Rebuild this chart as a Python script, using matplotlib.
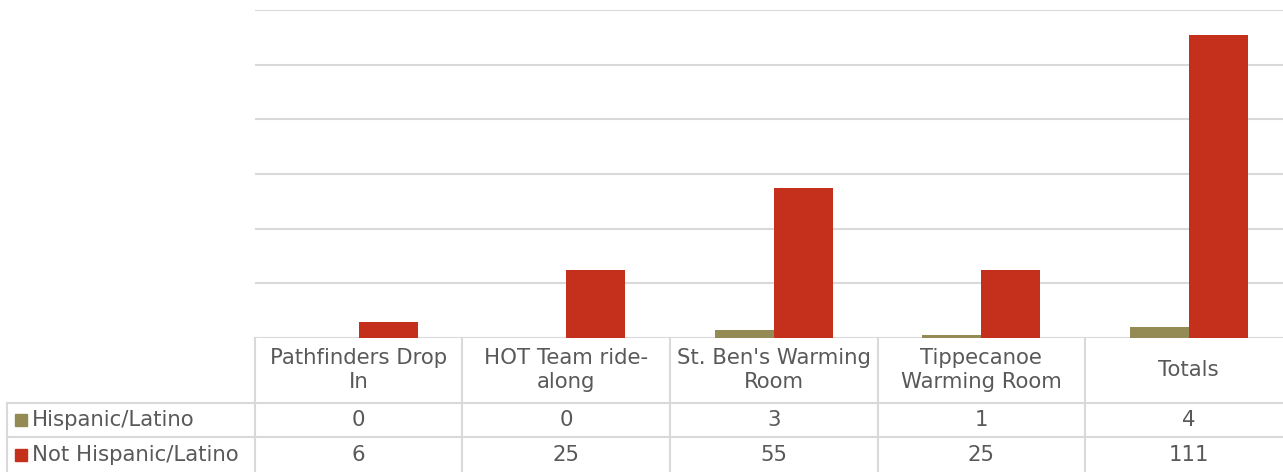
import matplotlib
matplotlib.use("Agg")
import matplotlib.pyplot as plt
import numpy as np
from matplotlib.lines import Line2D
from matplotlib.patches import Rectangle

categories = ["Pathfinders Drop\nIn", "HOT Team ride-\nalong", "St. Ben's Warming\nRoom",
              "Tippecanoe\nWarming Room", "Totals"]
series_names = ["Hispanic/Latino", "Not Hispanic/Latino"]
hispanic = [0, 0, 3, 1, 4]
not_hispanic = [6, 25, 55, 25, 111]
colors = ["#948A54", "#C4301C"]

W, H = 1283, 472
fig = plt.figure(figsize=(W / 100, H / 100), dpi=100)
plt.rcParams['font.family'] = ['DejaVu Sans']

def fx(px):
    return px / W

def fy(py):
    return 1 - py / H

ax_left, ax_right, ax_top, ax_bot = 255, 1292.5, 10, 338
ax = fig.add_axes([fx(ax_left), fy(ax_bot), fx(ax_right - ax_left), fy(ax_top) - fy(ax_bot)])
x = np.arange(len(categories))
bw = 0.285
ax.bar(x - bw / 2, hispanic, bw, color=colors[0], zorder=3)
ax.bar(x + bw / 2, not_hispanic, bw, color=colors[1], zorder=3)
ax.set_xlim(-0.5, len(categories) - 0.5)
ax.set_ylim(0, 120)
ax.set_yticks(np.arange(0, 121, 20))
ax.yaxis.grid(True, color="#D9D9D9", linewidth=1.5, zorder=0)
ax.tick_params(left=False, bottom=False, labelleft=False, labelbottom=False)
for s in ax.spines.values():
    s.set_visible(False)
ax.set_facecolor("none")

gc = "#D9D9D9"
tc = "#595959"
fs = 15.3
col_w = (ax_right - ax_left) / len(categories)

def hline(x0, x1, y):
    fig.add_artist(Line2D([fx(x0), fx(x1)], [fy(y), fy(y)], color=gc, linewidth=1.5))

def vline(xp, y0, y1):
    fig.add_artist(Line2D([fx(xp), fx(xp)], [fy(y0), fy(y1)], color=gc, linewidth=1.5))

hline(7, W, 403)
hline(7, W, 437)
vline(7, 403, 472)
for i in range(len(categories) + 1):
    vline(ax_left + i * col_w, 338, 472)

for i, c in enumerate(categories):
    cx = ax_left + (i + 0.5) * col_w
    fig.text(fx(cx), fy(370), c, ha="center", va="center", fontsize=fs, color=tc,
             linespacing=1.3)
    fig.text(fx(cx), fy(420), str(hispanic[i]), ha="center", va="center", fontsize=fs, color=tc)
    fig.text(fx(cx), fy(455), str(not_hispanic[i]), ha="center", va="center", fontsize=fs, color=tc)

for j, (name, yc) in enumerate(zip(series_names, [420, 455])):
    fig.add_artist(Rectangle((fx(15), fy(yc + 6)), fx(12), fy(yc - 6) - fy(yc + 6),
                             color=colors[j], transform=fig.transFigure))
    fig.text(fx(32), fy(yc), name, ha="left", va="center", fontsize=fs, color=tc)

fig.savefig("out.png", dpi=100)
